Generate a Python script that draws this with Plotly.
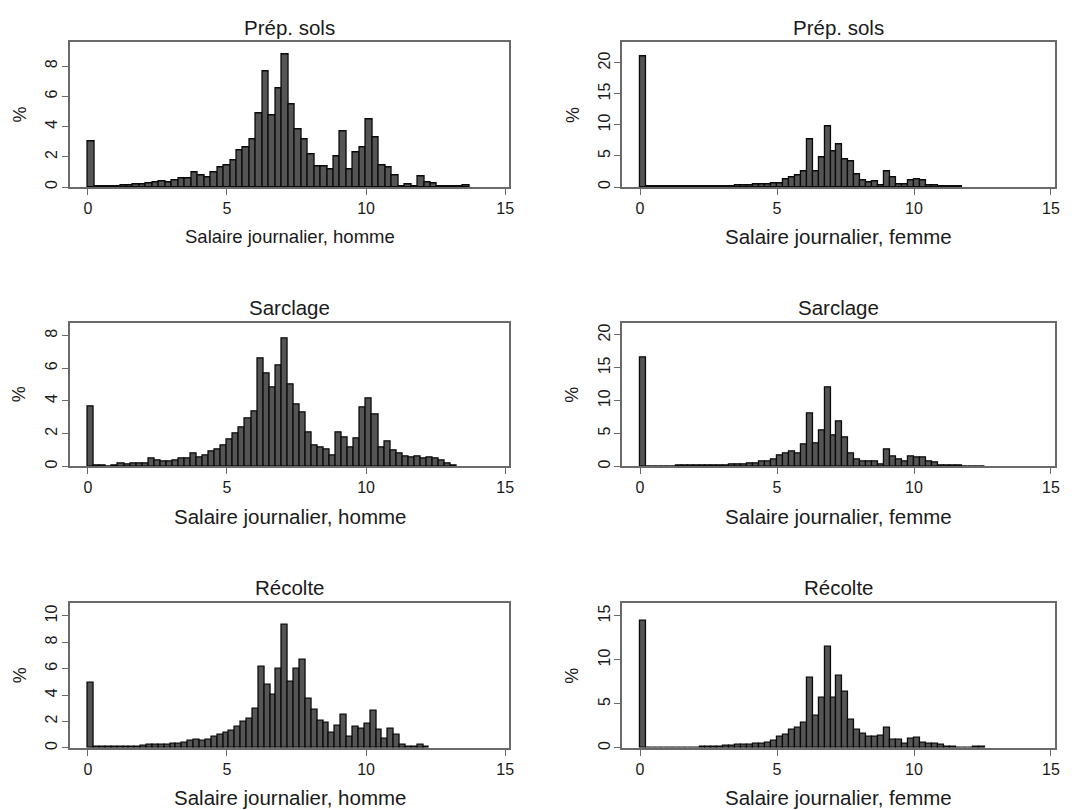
import plotly.graph_objects as go

# ---------------- data (percent per wage bin, bins start at 0) ----------------
TASKS = ["Prép. sols", "Sarclage", "Récolte"]
XLABEL_MEN = "Salaire journalier, homme"
XLABEL_WOMEN = "Salaire journalier, femme"

BIN_W_MEN_PREP = 0.2325
BIN_W_MEN_SARC = 0.2174
BIN_W_MEN_RECO = 0.2115
BIN_W_WOMEN = 0.2174

men_prep = [3.05, 0.05, 0.05, 0.05, 0.05, 0.12, 0.1, 0.2, 0.2, 0.25,
            0.28, 0.38, 0.3, 0.45, 0.55, 0.6, 0.96, 0.75, 0.65, 0.94,
            1.3, 1.45, 1.78, 2.4, 2.6, 3.16, 4.87, 7.65, 4.74, 6.56,
            8.8, 5.5, 3.84, 3.16, 2.13, 1.4, 1.4, 1.18, 2.0, 3.7,
            1.18, 2.32, 2.6, 4.47, 3.27, 1.45, 1.3, 0.79, 0.05, 0.2,
            0.05, 0.68, 0.28, 0.25, 0.05, 0.02, 0.02, 0.02, 0.1]

men_sarc = [3.66, 0.03, 0.03, 0.02, 0.05, 0.2, 0.1, 0.15, 0.15, 0.18,
            0.45, 0.35, 0.3, 0.3, 0.35, 0.5, 0.5, 0.8, 0.57, 0.67,
            0.88, 1.05, 1.28, 1.65, 2.0, 2.36, 2.9, 3.37, 6.6, 5.7,
            4.84, 6.2, 7.85, 4.98, 3.78, 3.3, 2.1, 1.28, 1.18, 1.06,
            0.67, 2.05, 1.79, 1.18, 1.69, 3.62, 4.13, 3.17, 1.18, 1.54,
            0.98, 0.81, 0.61, 0.57, 0.61, 0.51, 0.57, 0.5, 0.37, 0.2,
            0.05]

men_reco = [4.9, 0.05, 0.05, 0.05, 0.05, 0.08, 0.08, 0.1, 0.1, 0.12,
            0.2, 0.2, 0.25, 0.2, 0.3, 0.3, 0.4, 0.55, 0.6, 0.5,
            0.6, 0.8, 1.0, 1.15, 1.3, 1.6, 2.0, 2.2, 2.95, 6.15,
            4.79, 4.03, 5.97, 9.3, 5.04, 5.97, 6.68, 3.7, 2.9, 2.07,
            1.89, 1.13, 1.64, 2.52, 0.8, 1.59, 1.44, 1.81, 2.82, 1.34,
            0.68, 1.44, 0.96, 0.25, 0.1, 0.08, 0.2, 0.1]

women_prep = [21.0, 0.05, 0.05, 0.05, 0.05, 0.05, 0.05, 0.05, 0.05, 0.05,
              0.1, 0.1, 0.1, 0.1, 0.1, 0.15, 0.25, 0.3, 0.25, 0.35,
              0.4, 0.5, 0.6, 0.6, 1.2, 1.6, 1.9, 2.6, 7.6, 2.6,
              4.8, 9.7, 5.8, 6.9, 4.5, 4.2, 2.0, 1.0, 0.8, 0.9,
              0.3, 2.5, 1.6, 0.5, 0.5, 1.0, 1.3, 1.1, 0.25, 0.2,
              0.15, 0.15, 0.1, 0.1]

women_sarc = [16.6, 0.05, 0.05, 0.05, 0.05, 0.05, 0.1, 0.1, 0.1, 0.1,
              0.1, 0.1, 0.1, 0.2, 0.2, 0.3, 0.3, 0.35, 0.4, 0.5,
              0.8, 0.8, 1.0, 1.6, 2.0, 2.2, 2.0, 3.3, 8.1, 3.5,
              5.5, 12.0, 4.7, 6.9, 4.4, 2.0, 1.0, 0.7, 0.7, 0.7,
              0.3, 2.6, 1.5, 1.0, 0.8, 1.5, 1.3, 1.3, 0.7, 0.6,
              0.2, 0.1, 0.1, 0.1, 0.05, 0.05, 0.05, 0.05]

women_reco = [14.5, 0.05, 0.05, 0.05, 0.05, 0.05, 0.05, 0.05, 0.05, 0.05,
              0.1, 0.1, 0.1, 0.15, 0.2, 0.25, 0.3, 0.4, 0.4, 0.45,
              0.5, 0.6, 0.8, 1.2, 1.5, 2.0, 2.3, 2.8, 8.0, 3.6,
              5.7, 11.5, 5.7, 8.2, 6.4, 3.2, 2.1, 1.6, 1.3, 1.2,
              1.4, 2.3, 0.9, 0.9, 0.5, 1.0, 1.1, 0.6, 0.5, 0.5,
              0.3, 0.1, 0.15, 0.05, 0.05, 0.05, 0.15, 0.15]

X_TICKS = [0, 5, 10, 15]
Y_TICKS_MEN_PREP = [0, 2, 4, 6, 8]
Y_TICKS_MEN_SARC = [0, 2, 4, 6, 8]
Y_TICKS_MEN_RECO = [0, 2, 4, 6, 8, 10]
Y_TICKS_WOMEN_PREP = [0, 5, 10, 15, 20]
Y_TICKS_WOMEN_SARC = [0, 5, 10, 15, 20]
Y_TICKS_WOMEN_RECO = [0, 5, 10, 15]

# ---------------- layout geometry ----------------
W, H = 1078, 810
FONT = "Liberation Sans, Arial, Helvetica, sans-serif"
BAR_FILL = "#555555"
BAR_EDGE = "#0a0a0a"
FRAME = "#6a6a6a"
TEXT = "#1a1a1a"

# panel frames in pixels: (left, right, top, bottom)
left_x = (70, 511.7)
right_x = (625, 1060)
rows_y = [(42.5, 187.5), (323.3, 467.5), (604.3, 749.7)]

panels = [
    # (values, bin width, yticks, ytop, title, xlabel, col, row, xlabel size)
    (men_prep, BIN_W_MEN_PREP, Y_TICKS_MEN_PREP, 9.58, TASKS[0], XLABEL_MEN, 0, 0, 18.5),
    (women_prep, BIN_W_WOMEN, Y_TICKS_WOMEN_PREP, 23.3, TASKS[0], XLABEL_WOMEN, 1, 0, 20.5),
    (men_sarc, BIN_W_MEN_SARC, Y_TICKS_MEN_SARC, 8.8, TASKS[1], XLABEL_MEN, 0, 1, 20.5),
    (women_sarc, BIN_W_WOMEN, Y_TICKS_WOMEN_SARC, 21.9, TASKS[1], XLABEL_WOMEN, 1, 1, 20.5),
    (men_reco, BIN_W_MEN_RECO, Y_TICKS_MEN_RECO, 11.0, TASKS[2], XLABEL_MEN, 0, 2, 20.5),
    (women_reco, BIN_W_WOMEN, Y_TICKS_WOMEN_RECO, 16.5, TASKS[2], XLABEL_WOMEN, 1, 2, 20.5),
]

fig = go.Figure()
layout = dict(
    width=W, height=H,
    margin=dict(l=0, r=0, t=0, b=0),
    paper_bgcolor="white", plot_bgcolor="white",
    showlegend=False, bargap=0,
    font=dict(family=FONT, color=TEXT),
)
annotations = []

for i, (vals, bw, yt, ytop, title, xlabel, col, row, xls) in enumerate(panels):
    n = i + 1
    xa = "x" if n == 1 else f"x{n}"
    ya = "y" if n == 1 else f"y{n}"
    centers = [(k + 0.5) * bw for k in range(len(vals))]
    fig.add_trace(go.Bar(
        x=centers, y=vals, width=bw, xaxis=xa, yaxis=ya,
        marker=dict(color=BAR_FILL, line=dict(color=BAR_EDGE, width=1.3)),
        hoverinfo="x+y",
    ))
    lx, rx = left_x if col == 0 else right_x
    ty, by = rows_y[row]
    xd = [lx / W, rx / W]
    yd = [1 - by / H, 1 - ty / H]
    layout["xaxis" if n == 1 else f"xaxis{n}"] = dict(
        domain=xd, anchor=ya, range=[-0.655, 15.15],
        tickmode="array", tickvals=X_TICKS,
        ticks="outside", ticklen=6, tickwidth=1.2, tickcolor=FRAME,
        showline=True, mirror=True, linecolor=FRAME, linewidth=1.6,
        showgrid=False, zeroline=False,
        tickfont=dict(size=16, family=FONT, color=TEXT),
    )
    layout["yaxis" if n == 1 else f"yaxis{n}"] = dict(
        domain=yd, anchor=xa, range=[0, ytop],
        tickmode="array", tickvals=yt, tickangle=-90,
        ticks="outside", ticklen=6, tickwidth=1.2, tickcolor=FRAME,
        showline=True, mirror=True, linecolor=FRAME, linewidth=1.6,
        showgrid=False, zeroline=False, ticklabelstandoff=-2,
        tickfont=dict(size=16, family=FONT, color=TEXT),
    )
    cx = (lx + rx) / 2 / W
    annotations.append(dict(
        text=title, x=cx, y=1 - (ty - 15) / H, xref="paper", yref="paper",
        xanchor="center", yanchor="middle", showarrow=False,
        font=dict(size=20.5, family=FONT, color=TEXT),
    ))
    annotations.append(dict(
        text=xlabel, x=cx, y=1 - (by + 50) / H, xref="paper", yref="paper",
        xanchor="center", yanchor="middle", showarrow=False,
        font=dict(size=xls, family=FONT, color=TEXT),
    ))
    annotations.append(dict(
        text="%", x=(lx - 50) / W, y=1 - (ty + by) / 2 / H, xref="paper", yref="paper",
        xanchor="center", yanchor="middle", showarrow=False, textangle=-90,
        font=dict(size=18, family=FONT, color=TEXT),
    ))

layout["annotations"] = annotations
fig.update_layout(**layout)
fig.write_html("out.html")
